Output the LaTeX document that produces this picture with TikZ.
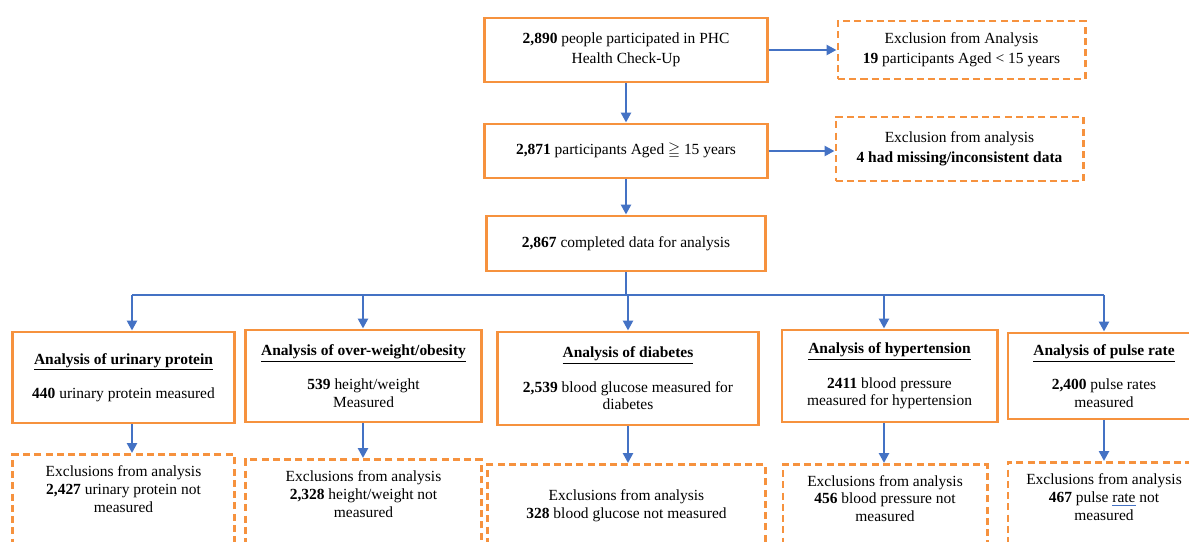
\documentclass[tikz,border=0pt]{standalone}
\usepackage{fontspec}
\setmainfont{Liberation Serif}
\usepackage{amssymb}
\usetikzlibrary{arrows.meta,positioning}
\definecolor{boxorange}{RGB}{246,146,62}
\definecolor{flowblue}{RGB}{68,114,196}

\begin{document}
\begin{tikzpicture}[x=0.025cm, y=-0.025cm,
  topbox/.style={draw=boxorange, line width=2.1pt, align=center, inner sep=2pt, font=\fontsize{11}{14}\selectfont},
  topex/.style={topbox, dash pattern=on 5pt off 3pt},
  anbox/.style={draw=boxorange, line width=2.1pt, align=center, inner sep=2pt, font=\fontsize{11}{12.5}\selectfont},
  exframe/.style={draw=boxorange, line width=2.1pt, dash pattern=on 5pt off 3pt, minimum height=4cm, anchor=north},
  extext/.style={align=center, anchor=north, inner sep=0pt, font=\fontsize{11}{12.5}\selectfont},
  flow/.style={draw=flowblue, line width=1.9pt, -{Triangle[length=7pt,width=7pt]}},
  bus/.style={draw=flowblue, line width=1.9pt}]

  \useasboundingbox (0,0) rectangle (1189,541);
  \clip (0,0) rectangle (1189,541);

  % top of the flow
  \node[topbox, minimum width=7.05cm, minimum height=1.6cm] (start) at (626,50)
    {\textbf{2,890} people participated in PHC\\Health Check-Up};
  \node[topex, minimum width=6.175cm, minimum height=1.45cm] (exage) at (961.5,50)
    {Exclusion from Analysis\\\textbf{19} participants Aged < 15 years};
  \node[topbox, minimum width=7.05cm, minimum height=1.35cm] (aged) at (626,151)
    {\textbf{2,871} participants Aged $\geqq$ 15 years};
  \node[topex, minimum width=6.175cm, minimum height=1.6cm] (exmiss) at (959.5,149)
    {Exclusion from analysis\\\textbf{4 had missing/inconsistent data}};
  \node[topbox, minimum width=6.95cm, minimum height=1.375cm] (complete) at (626,243.5)
    {\textbf{2,867} completed data for analysis};

  \draw[flow] (start.east) -- (exage.west);
  \draw[flow] (aged.east) -- (aged.east -| exmiss.west);
  \draw[flow] (start) -- (aged);
  \draw[flow] (aged) -- (complete);

  % analysis boxes
  \node[anbox, minimum width=5.525cm, minimum height=2.275cm] (urine) at (123.5,377.5)
    {\underline{\textbf{Analysis of urinary protein}}\\[12pt]\textbf{440} urinary protein measured};
  \node[anbox, minimum width=5.875cm, minimum height=2.3cm] (obese) at (363.5,376)
    {\underline{\textbf{Analysis of over-weight/obesity}}\\[12pt]\textbf{539} height/weight\\Measured};
  \node[anbox, minimum width=6.5cm, minimum height=2.325cm] (diab) at (628,378.5)
    {\underline{\textbf{Analysis of diabetes}}\\[12pt]\textbf{2,539} blood glucose measured for\\diabetes};
  \node[anbox, minimum width=5.375cm, minimum height=2.3cm] (hyper) at (889.5,376)
    {\underline{\textbf{Analysis of hypertension}}\\[12pt]\textbf{2411} blood pressure\\measured for hypertension};
  \node[anbox, minimum width=4.8cm, minimum height=2.15cm] (pulse) at (1104,376)
    {\underline{\textbf{Analysis of pulse rate}}\\[12pt]\textbf{2,400} pulse rates\\measured};

  % exclusion boxes, cut by the page edge
  \node[exframe, minimum width=5.525cm] (exurine) at (123.5,453) {};
  \node[exframe, minimum width=5.875cm] (exobese) at (363.5,458) {};
  \node[exframe, minimum width=6.925cm] (exdiab) at (626.5,463) {};
  \node[exframe, minimum width=5.1cm] (exhyper) at (885,463) {};
  \node[exframe, minimum width=4.8cm] (expulse) at (1104,461) {};
  \node[extext] (exurinetxt) at ([yshift=-0.32cm]exurine.north)
    {Exclusions from analysis\\\textbf{2,427} urinary protein not\\measured};
  \node[extext] (exobesetxt) at ([yshift=-0.32cm]exobese.north)
    {Exclusions from analysis\\\textbf{2,328} height/weight not\\measured};
  \node[extext] (exdiabtxt) at ([yshift=-0.67cm]exdiab.north)
    {Exclusions from analysis\\\textbf{328} blood glucose not measured};
  \node[extext] (exhypertxt) at ([yshift=-0.3cm]exhyper.north)
    {Exclusions from analysis\\\textbf{456} blood pressure not\\measured};
  \node[extext] (expulsetxt) at ([yshift=-0.32cm]expulse.north)
    {Exclusions from analysis\\\textbf{467} pulse \rlap{\color{flowblue}\rule[-2.2pt]{16.5pt}{0.6pt}}rate not\\measured};

  % branching bus
  \coordinate (j1) at (132,295);
  \coordinate (j2) at (363,295);
  \coordinate (j3) at (628,295);
  \coordinate (j4) at (884,295);
  \coordinate (j5) at (1104,295);
  \draw[bus] (complete.south) -- (complete.south |- j1);
  \draw[bus] (j1) -- (j5);
  \draw[flow] (j1) -- (j1 |- urine.north);
  \draw[flow] (j2) -- (j2 |- obese.north);
  \draw[flow] (j3) -- (j3 |- diab.north);
  \draw[flow] (j4) -- (j4 |- hyper.north);
  \draw[flow] (j5) -- (j5 |- pulse.north);

  \draw[flow] (urine.south -| j1) -- (exurine.north -| j1);
  \draw[flow] (obese.south -| j2) -- (exobese.north -| j2);
  \draw[flow] (diab.south -| j3) -- (exdiab.north -| j3);
  \draw[flow] (hyper.south -| j4) -- (exhyper.north -| j4);
  \draw[flow] (pulse.south -| j5) -- (expulse.north -| j5);
\end{tikzpicture}
\end{document}
